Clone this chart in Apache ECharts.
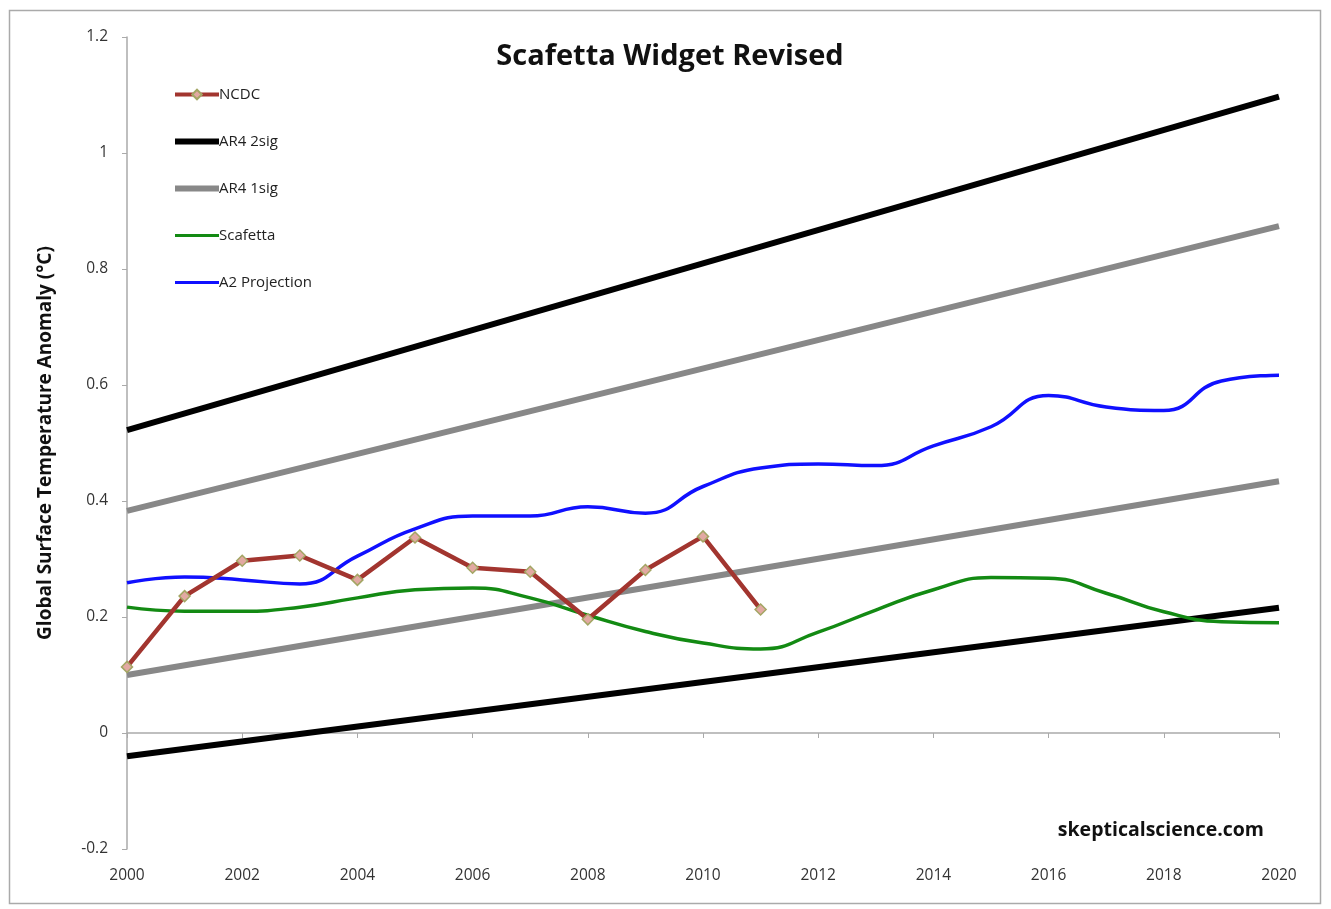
<!DOCTYPE html>
<html>
<head>
<meta charset="utf-8">
<script src="https://cdn.jsdelivr.net/npm/echarts@6/dist/echarts.min.js"></script>
<style>
  html, body { margin: 0; padding: 0; background: #fff; }
  #chart { width: 1331px; height: 909px; }
</style>
</head>
<body>
<div id="chart"></div>
<script>
// years for the observed / projected series
const ncdcYears = [2000, 2001, 2002, 2003, 2004, 2005, 2006, 2007, 2008, 2009, 2010, 2011];
const ncdc = [0.114, 0.236, 0.297, 0.306, 0.264, 0.337, 0.285, 0.278, 0.196, 0.281, 0.339, 0.213];

const fullYears = [2000, 2001, 2002, 2003, 2004, 2005, 2006, 2007, 2008, 2009, 2010,
  2011, 2012, 2013, 2014, 2015, 2016, 2017, 2018, 2019, 2020];
const scafetta = [0.217, 0.210, 0.210, 0.217, 0.233, 0.247, 0.250, 0.233, 0.203, 0.175, 0.155,
  0.145, 0.174, 0.212, 0.247, 0.268, 0.267, 0.241, 0.209, 0.192, 0.190];
const a2Projection = [0.259, 0.269, 0.264, 0.257, 0.305, 0.352, 0.374, 0.374, 0.390, 0.379, 0.425,
  0.457, 0.464, 0.461, 0.495, 0.528, 0.582, 0.562, 0.556, 0.607, 0.617];

// AR4 envelopes: start/end values
const envYears = [2000, 2020];
const ar4TwoSigUpper = [0.522, 1.097];
const ar4TwoSigLower = [-0.040, 0.216];
const ar4OneSigUpper = [0.383, 0.874];
const ar4OneSigLower = [0.100, 0.434];

const zip = (xs, ys) => xs.map((x, i) => [x, ys[i]]);

const chart = echarts.init(document.getElementById('chart'));
const font = '"Open Sans", Lato, sans-serif';

const envLine = (name, ys, color) => ({
  name: name,
  type: 'line',
  data: zip(envYears, ys),
  symbol: 'none',
  lineStyle: { color: color, width: 6, cap: 'butt' },
  itemStyle: { color: color },
  z: 2
});

const option = {
  animation: false,
  backgroundColor: '#fff',
  textStyle: { fontFamily: font },
  title: {
    text: 'Scafetta Widget Revised',
    left: 665,
    textAlign: 'center',
    top: 37,
    textStyle: { fontFamily: font, fontSize: 29, fontWeight: 'bold', color: '#111' }
  },
  legend: {
    orient: 'vertical',
    left: 167,
    top: 82,
    itemWidth: 44,
    itemHeight: 12,
    itemGap: 32,
    data: [
      { name: 'NCDC', lineStyle: { width: 4 } },
      { name: 'AR4 2sig', lineStyle: { width: 6 }, itemStyle: { opacity: 0 } },
      { name: 'AR4 1sig', lineStyle: { width: 6 }, itemStyle: { opacity: 0 } },
      { name: 'Scafetta', lineStyle: { width: 3 }, itemStyle: { opacity: 0 } },
      { name: 'A2 Projection', lineStyle: { width: 3 }, itemStyle: { opacity: 0 } }
    ],
    textStyle: { fontFamily: font, fontSize: 15, color: '#222', padding: [0, 0, 0, -5] }
  },
  grid: { left: 127, right: 52, top: 37, bottom: 60 },
  xAxis: {
    type: 'value',
    min: 2000,
    max: 2020,
    interval: 2,
    splitLine: { show: false },
    axisLine: { lineStyle: { color: '#aaa', width: 1.5 } },
    axisTick: { show: true, length: 5, lineStyle: { color: '#aaa' } },
    axisLabel: { color: '#333', fontSize: 15.5, margin: 19, formatter: v => String(v) }
  },
  yAxis: {
    type: 'value',
    min: -0.2,
    max: 1.2,
    interval: 0.2,
    name: 'Global Surface Temperature Anomaly (°C)',
    nameLocation: 'middle',
    nameGap: 72,
    nameTextStyle: { fontFamily: font, fontSize: 19, fontWeight: 'bold', color: '#111' },
    splitLine: { show: false },
    axisLine: { show: true, lineStyle: { color: '#aaa', width: 1.5 } },
    axisTick: { show: true, length: 5, lineStyle: { color: '#aaa' } },
    axisLabel: { color: '#333', fontSize: 15.5, margin: 19, formatter: v => String(Math.round(v * 10) / 10) }
  },
  graphic: [
    {
      type: 'rect',
      shape: { x: 9.5, y: 10.5, width: 1311, height: 893 },
      style: { fill: 'none', stroke: '#aaa', lineWidth: 1.5 },
      silent: true
    },
    {
      type: 'text',
      right: 67,
      top: 820,
      style: { text: 'skepticalscience.com', font: 'bold 19.5px ' + font, fill: '#111' }
    }
  ],
  series: [
    envLine('AR4 2sig', ar4TwoSigUpper, '#000'),
    envLine('AR4 2sig', ar4TwoSigLower, '#000'),
    envLine('AR4 1sig', ar4OneSigUpper, '#888'),
    envLine('AR4 1sig', ar4OneSigLower, '#888'),
    {
      name: 'Scafetta',
      type: 'line',
      data: zip(fullYears, scafetta),
      smooth: 0.5,
      symbol: 'none',
      lineStyle: { color: '#138a13', width: 3.5 },
      itemStyle: { color: '#138a13' },
      z: 3
    },
    {
      name: 'A2 Projection',
      type: 'line',
      data: zip(fullYears, a2Projection),
      smooth: 0.5,
      symbol: 'none',
      lineStyle: { color: '#1010ff', width: 3.5 },
      itemStyle: { color: '#1010ff' },
      z: 3
    },
    {
      name: 'NCDC',
      type: 'line',
      data: zip(ncdcYears, ncdc),
      symbol: 'diamond',
      symbolSize: 11,
      showAllSymbol: true,
      lineStyle: { color: '#a2352f', width: 4.5 },
      itemStyle: { color: '#e2a9a2', borderColor: '#a3a664', borderWidth: 1.5 },
      z: 4
    }
  ]
};

chart.setOption(option);
window.addEventListener('resize', () => chart.resize());
</script>
</body>
</html>
